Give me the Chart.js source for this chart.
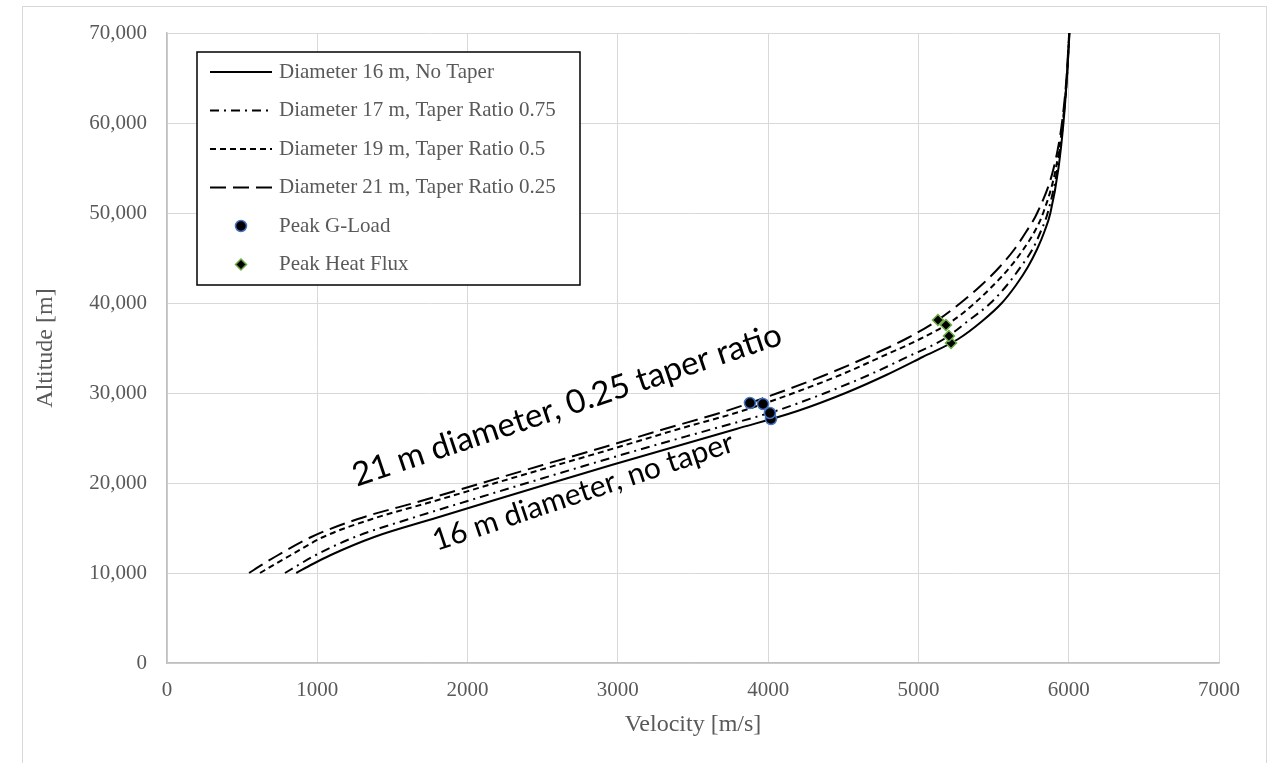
<!DOCTYPE html>
<html>
<head>
<meta charset="utf-8">
<title>Altitude vs Velocity</title>
<script src="https://cdn.jsdelivr.net/npm/chart.js@4.4.1/dist/chart.umd.min.js"></script>
<style>
  html, body { margin: 0; padding: 0; background: #fff; }
  #wrap { width: 1268px; height: 763px; }
</style>
</head>
<body>
<div id="wrap"><canvas id="trajChart" width="1268" height="763"></canvas></div>
<script>
// altitude grid shared by all four trajectories [m]
const altitudes = [10000, 11000, 12000, 14000, 16000, 18000, 20000, 22000, 24000, 26000, 28000, 30000, 32000,
                   34000, 36000, 38000, 40000, 42000, 44000, 46000, 48000, 50000, 55000, 60000, 65000, 70000];

// velocity [m/s] at each altitude
const vel16 = [860, 970, 1090, 1379, 1767, 2159, 2557, 2958, 3373, 3788, 4195, 4515, 4786,
               5028, 5265, 5425, 5555, 5650, 5728, 5790, 5840, 5878, 5932, 5965, 5988, 6005];
const vel17 = [785, 885, 990, 1250, 1610, 2000, 2395, 2795, 3205, 3630, 4050, 4380, 4670,
               4925, 5170, 5330, 5480, 5590, 5680, 5760, 5815, 5860, 5925, 5962, 5987, 6004];
const vel19 = [619, 720, 825, 1040, 1365, 1780, 2185, 2595, 3005, 3405, 3825, 4170, 4480,
               4750, 5010, 5225, 5375, 5500, 5610, 5700, 5775, 5830, 5915, 5960, 5988, 6004];
const vel21 = [546, 640, 740, 960, 1270, 1690, 2095, 2500, 2911, 3310, 3720, 4065, 4380,
               4660, 4915, 5120, 5280, 5420, 5540, 5640, 5720, 5790, 5900, 5955, 5985, 6003];

// peak markers, ordered 16 m, 17 m, 19 m, 21 m
const gLoadVel = [4019, 4012, 3966, 3879];
const gLoadAlt = [27111, 27778, 28778, 28889];
const heatVel = [5217, 5203, 5183, 5130];
const heatAlt = [35556, 36333, 37556, 38111];

const seriesLabels = [
  'Diameter 16 m, No Taper',
  'Diameter 17 m, Taper Ratio 0.75',
  'Diameter 19 m, Taper Ratio 0.5',
  'Diameter 21 m, Taper Ratio 0.25',
  'Peak G-Load',
  'Peak Heat Flux'
];

const noteLines = ['21 m diameter, 0.25 taper ratio', '16 m diameter, no taper'];

const SERIF = "'Liberation Serif', 'Times New Roman', serif";
const GREY = '#595959';

function pairUp(xs, ys) {
  return xs.map((x, i) => ({ x: x, y: ys[i] }));
}

function lineSet(label, vels, dash) {
  return {
    label: label,
    data: pairUp(vels, altitudes),
    showLine: true,
    borderColor: '#000',
    backgroundColor: '#000',
    borderWidth: 2,
    borderDash: dash,
    pointRadius: 0,
    cubicInterpolationMode: 'monotone',
    order: 1
  };
}

// light frame round the whole figure
const frame = {
  id: 'frame',
  beforeDraw(chart) {
    const ctx = chart.ctx;
    ctx.save();
    ctx.fillStyle = '#fff';
    ctx.fillRect(0, 0, chart.width, chart.height);
    ctx.strokeStyle = '#D9D9D9';
    ctx.lineWidth = 1;
    ctx.strokeRect(22.5, 6.5, 1244, 800);
    ctx.restore();
  }
};

// boxed legend sitting inside the plot area
const boxLegend = {
  id: 'boxLegend',
  afterDatasetsDraw(chart) {
    const { ctx, chartArea } = chart;
    const left = chartArea.left + 30, top = chartArea.top + 19;
    const w = 383, h = 233, rowH = 38.5;
    ctx.save();
    ctx.fillStyle = '#fff';
    ctx.fillRect(left, top, w, h);
    ctx.strokeStyle = '#000';
    ctx.lineWidth = 1.5;
    ctx.strokeRect(left, top, w, h);
    ctx.font = '21px ' + SERIF;
    ctx.textBaseline = 'middle';
    chart.data.datasets.forEach((ds, i) => {
      const cy = top + 20 + i * rowH;
      ctx.save();
      if (ds.showLine) {
        ctx.strokeStyle = ds.borderColor;
        ctx.lineWidth = ds.borderWidth;
        ctx.setLineDash(ds.borderDash || []);
        ctx.beginPath();
        ctx.moveTo(left + 13, cy);
        ctx.lineTo(left + 75, cy);
        ctx.stroke();
      } else {
        ctx.fillStyle = ds.backgroundColor;
        ctx.strokeStyle = ds.borderColor;
        ctx.lineWidth = ds.borderWidth;
        Chart.helpers.drawPoint(ctx, {
          pointStyle: ds.pointStyle,
          radius: ds.pointRadius,
          rotation: 0,
          borderWidth: ds.borderWidth
        }, left + 44, cy);
      }
      ctx.restore();
      ctx.fillStyle = GREY;
      ctx.fillText(ds.label, left + 82, cy);
    });
    ctx.restore();
  }
};

// slanted notes along the outer curves, anchored in data units
const slantNotes = {
  id: 'slantNotes',
  afterDatasetsDraw(chart) {
    const { ctx, scales } = chart;
    const notes = [
      { text: noteLines[0], v: 1262, alt: 19590, deg: -18.5, size: 33 },
      { text: noteLines[1], v: 1794, alt: 12450, deg: -18.5, size: 30 }
    ];
    ctx.save();
    ctx.fillStyle = '#000';
    ctx.textBaseline = 'alphabetic';
    notes.forEach(n => {
      ctx.save();
      ctx.font = n.size + 'px Lato, "Open Sans", sans-serif';
      ctx.translate(scales.x.getPixelForValue(n.v), scales.y.getPixelForValue(n.alt));
      ctx.rotate(n.deg * Math.PI / 180);
      ctx.fillText(n.text, 0, 0);
      ctx.restore();
    });
    ctx.restore();
  }
};

const ctx = document.getElementById('trajChart').getContext('2d');
const trajChart = new Chart(ctx, {
  type: 'scatter',
  data: {
    datasets: [
      lineSet(seriesLabels[0], vel16, []),
      lineSet(seriesLabels[1], vel17, [9, 5, 2, 5]),
      lineSet(seriesLabels[2], vel19, [6, 4]),
      lineSet(seriesLabels[3], vel21, [16, 7]),
      {
        label: seriesLabels[4],
        data: pairUp(gLoadVel, gLoadAlt),
        pointStyle: 'circle',
        pointRadius: 5.5,
        backgroundColor: '#000',
        borderColor: '#4472C4',
        borderWidth: 1.5,
        order: 0
      },
      {
        label: seriesLabels[5],
        data: pairUp(heatVel, heatAlt),
        pointStyle: 'rectRot',
        pointRadius: 5.5,
        backgroundColor: '#000',
        borderColor: '#70AD47',
        borderWidth: 1.5,
        order: 0
      }
    ]
  },
  options: {
    responsive: false,
    animation: false,
    devicePixelRatio: 1,
    events: [],
    layout: { padding: { left: 0, top: 33, right: 49, bottom: 0 } },
    plugins: {
      legend: { display: false },
      tooltip: { enabled: false }
    },
    scales: {
      x: {
        type: 'linear',
        min: 0,
        max: 7000,
        afterFit(scale) { scale.height = 100; },
        grid: { color: '#D9D9D9', drawTicks: false },
        border: { color: '#BFBFBF', width: 1.5 },
        ticks: {
          stepSize: 1000,
          padding: 15,
          color: GREY,
          font: { family: SERIF, size: 21 },
          callback: v => String(v)
        },
        title: {
          display: true,
          text: 'Velocity [m/s]',
          color: GREY,
          font: { family: SERIF, size: 24 },
          padding: { top: 0, bottom: 24 }
        }
      },
      y: {
        type: 'linear',
        min: 0,
        max: 70000,
        afterFit(scale) { scale.width = 167; },
        grid: { color: '#D9D9D9', drawTicks: false },
        border: { color: '#BFBFBF', width: 1.5 },
        ticks: {
          stepSize: 10000,
          padding: 20,
          color: GREY,
          font: { family: SERIF, size: 21 },
          callback: v => v.toLocaleString('en-US')
        },
        title: {
          display: true,
          text: 'Altitude [m]',
          color: GREY,
          font: { family: SERIF, size: 24 },
          padding: { top: 31, bottom: 0 }
        }
      }
    }
  },
  plugins: [frame, boxLegend, slantNotes]
});
</script>
</body>
</html>
